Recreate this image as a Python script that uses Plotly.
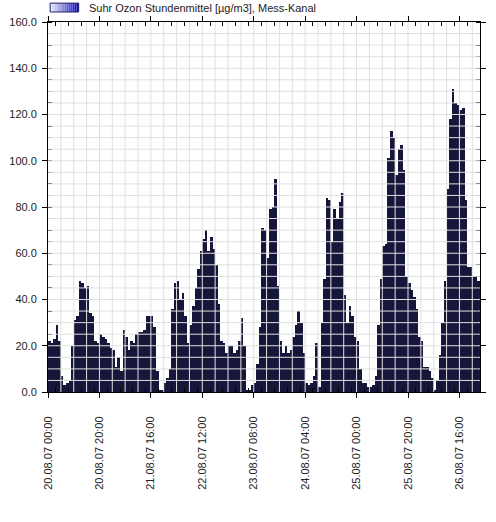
import pandas as pd
import plotly.graph_objects as go

# hourly means, one list per day (20.08.07 .. 26.08.07, hours 00..23)
DAY_20 = [22, 21, 23, 29, 22, 7, 3, 4, 5, 20, 31, 33, 48, 47, 45, 46, 34, 33, 22, 21, 25, 24, 23, 21]
DAY_21 = [19, 18, 11, 15, 9, 27, 24, 18, 22, 21, 25, 26, 26, 27, 33, 33, 33, 28, 9, 1, 0.5, 4, 6, 10]
DAY_22 = [36, 47, 48, 40, 43, 33, 21, 29, 37, 45, 53, 61, 66, 70, 61, 67, 62, 55, 38, 22, 21, 17, 20, 20]
DAY_23 = [17, 18, 22, 32, 20, 1, 1, 3, 4, 12, 28, 71, 70, 58, 79, 80, 92, 46, 22, 17, 20, 17, 18, 24]
DAY_24 = [29, 35, 30, 17, 4, 3, 4, 7, 21, 2, 30, 49, 84, 83, 65, 79, 75, 82, 86, 42, 30, 37, 33, 24]
DAY_25 = [22, 10, 4, 4, 2, 2, 3, 7, 29, 49, 63, 64, 101, 113, 110, 94, 105, 107, 96, 50, 47, 44, 41, 36]
DAY_26 = [24, 22, 11, 11, 9, 6, 1, 5, 16, 30, 48, 88, 118, 131, 125, 124, 122, 123, 83, 54, 54, 50, 50, 48]

START = "2007-08-20 00:00"
END = "2007-08-27 00:00"
SERIES_NAME = "Suhr Ozon Stundenmittel [µg/m3], Mess-Kanal"

BAR_COLOR = "#16163a"
GRID_COLOR = "#e0e0e0"
FONT = "Arial, Liberation Sans, sans-serif"

values = DAY_20 + DAY_21 + DAY_22 + DAY_23 + DAY_24 + DAY_25 + DAY_26
hours = pd.date_range(pd.Timestamp(START) + pd.Timedelta(minutes=30), periods=len(values), freq="h")

fig = go.Figure()
fig.add_trace(go.Bar(
    x=hours, y=values,
    width=3600 * 1000,
    marker=dict(color=BAR_COLOR, line_width=0),
    name=SERIES_NAME, showlegend=False,
))

# grid drawn over the bars, like the original
t0 = pd.Timestamp(START)
for h in range(5, 168, 5):
    fig.add_shape(type="line", xref="x", yref="paper",
                  x0=t0 + pd.Timedelta(hours=h), x1=t0 + pd.Timedelta(hours=h),
                  y0=0, y1=1, line=dict(color=GRID_COLOR, width=1), layer="above")
for v in range(5, 160, 5):
    fig.add_shape(type="line", xref="paper", yref="y", x0=0, x1=1, y0=v, y1=v,
                  line=dict(color=GRID_COLOR, width=1), layer="above")

# hand-made legend: gradient swatch + label
steps = 14
for i in range(steps):
    f = i / (steps - 1)
    r = int(232 - f * 216)
    g = int(232 - f * 216)
    b = int(255 - f * 55)
    fig.add_shape(type="rect", xref="paper", yref="paper",
                  x0=0.005 + i * 0.066 / steps, x1=0.005 + (i + 1) * 0.066 / steps,
                  y0=1.027, y1=1.051, line_width=0, fillcolor=f"rgb({r},{g},{b})")
fig.add_shape(type="rect", xref="paper", yref="paper", x0=0.005, x1=0.071,
              y0=1.027, y1=1.051, line=dict(color="#20205a", width=1))
fig.add_annotation(text=SERIES_NAME, xref="paper", yref="paper", x=0.09, y=1.039,
                   xanchor="left", yanchor="middle", showarrow=False,
                   font=dict(size=11, color="#222222", family=FONT))

fig.update_layout(
    width=496, height=522,
    margin=dict(l=48, r=16, t=22, b=130, autoexpand=False),
    paper_bgcolor="white", plot_bgcolor="white",
    bargap=0,
    font=dict(family=FONT, size=11, color="#222222"),
)
fig.update_xaxes(
    type="date", range=[START, END], automargin=False,
    tick0=START, dtick=20 * 3600 * 1000, tickformat="%d.%m.%y %H:%M", tickangle=-90,
    ticks="outside", ticklen=5, tickcolor="black",
    minor=dict(dtick=5 * 3600 * 1000, ticks="inside", ticklen=4, tickcolor="black", showgrid=False),
    showgrid=False, showline=True, linecolor="black", linewidth=1, mirror="allticks",
    layer="above traces", ticklabelstandoff=14,
)
fig.update_yaxes(
    range=[0, 160], dtick=20, tickformat=".1f", automargin=False,
    ticks="outside", ticklen=5, tickcolor="black",
    minor=dict(dtick=5, ticks="inside", ticklen=4, tickcolor="black", showgrid=False),
    showgrid=False, zeroline=False, showline=True, linecolor="black", linewidth=1,
    mirror="allticks", layer="above traces", ticklabelstandoff=3,
)

fig.write_html("out.html", config={"displayModeBar": False},
               post_script="document.body.style.margin='0';")
